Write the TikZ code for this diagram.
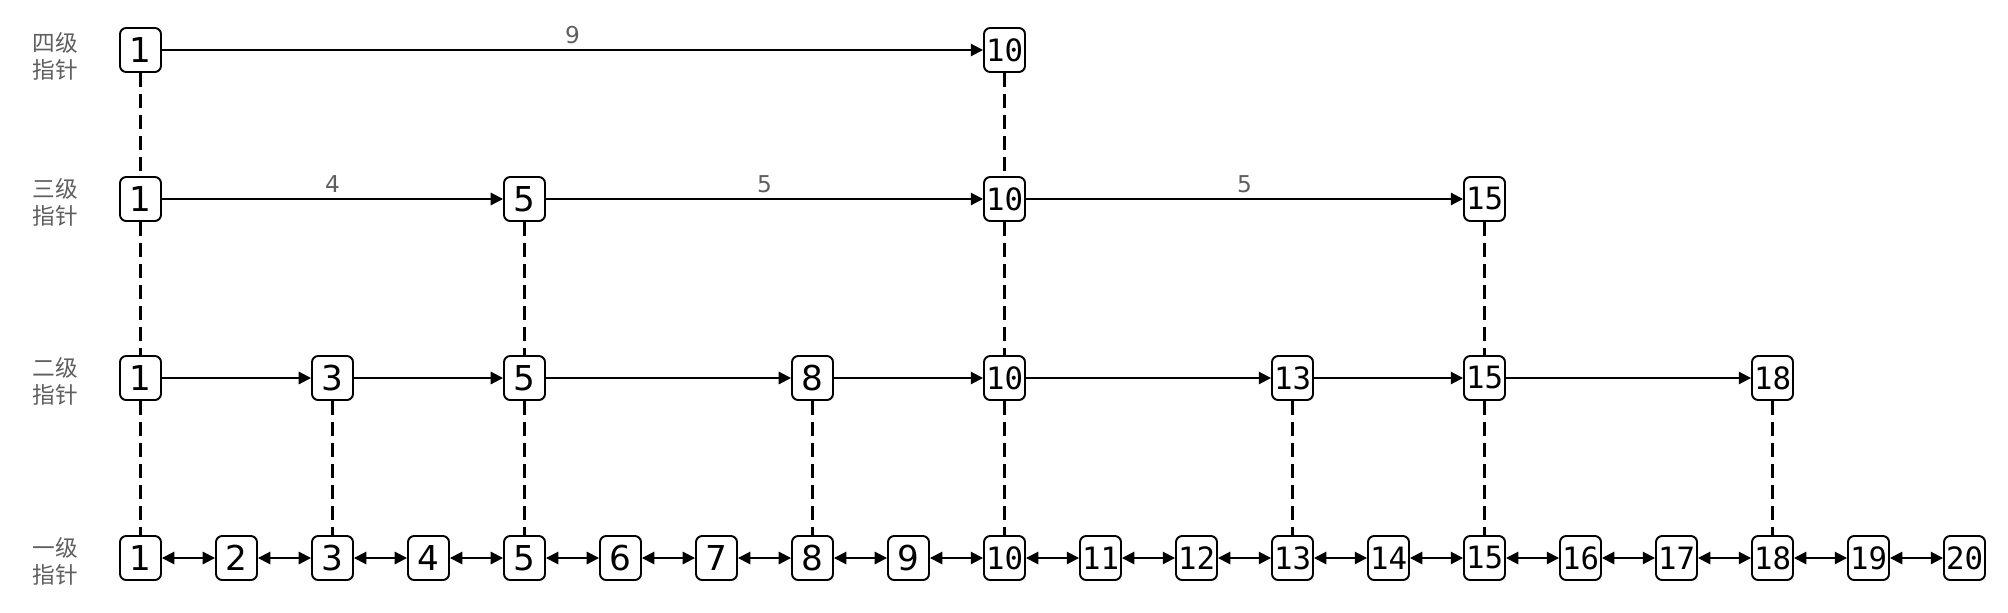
\documentclass[tikz,border=0pt]{standalone}
\usepackage{fontspec}
\usepackage{tikz}
\usepackage{xcolor}
\usetikzlibrary{arrows.meta, positioning, calc}

\newfontfamily\cjkfont{Noto Sans CJK SC}
\newfontfamily\numfont{DejaVu Sans}
\newfontfamily\keymono{DejaVu Sans Mono}
\definecolor{labelgray}{HTML}{5F5F5F}

% one digit keys are set larger than two digit ones
\newcommand{\keynum}[1]{\ifnum#1<10 {\numfont\fontsize{19.5}{20}\selectfont#1}\else{\keymono\fontsize{17.5}{18}\selectfont#1}\fi}

\tikzset{
  keybox/.style={draw, line width=1.1pt, rounded corners=3.5pt, fill=white,
    minimum width=0.82cm, minimum height=0.88cm, inner sep=0pt},
  fwd/.style={line width=1.1pt, -{Triangle[length=7pt, width=7pt]}},
  bidir/.style={line width=1.1pt, {Triangle[length=7pt, width=7pt]}-{Triangle[length=7pt, width=7pt]}},
  level/.style={line width=1.2pt, dash pattern=on 8pt off 4pt},
  span/.style={midway, above=3pt, inner sep=0pt, text=labelgray,
    font=\numfont\fontsize{13.2}{14}\selectfont},
  rowlabel/.style={align=center, text=labelgray, inner sep=0pt,
    font=\cjkfont\fontsize{12.9}{15.3}\selectfont}
}

\begin{document}
\begin{tikzpicture}[x=0.02cm, y=-0.02cm]
    \fill[white] (0,0) rectangle (2008,612);

    \node[rowlabel] (lab4) at (55,56) {四级\\指针};
    \node[rowlabel] (lab3) at (55,202) {三级\\指针};
    \node[rowlabel] (lab2) at (55,381) {二级\\指针};
    \node[rowlabel] (lab1) at (55,561) {一级\\指针};

    % keys of each level
    \foreach \k in {1,...,20}
        \node[keybox] (a\k) at ({140.5+96*(\k-1)},558) {\keynum{\k}};
    \foreach \k in {1,3,5,8,10,13,15,18}
        \node[keybox] (b\k) at ({140.5+96*(\k-1)},378) {\keynum{\k}};
    \foreach \k in {1,5,10,15}
        \node[keybox] (c\k) at ({140.5+96*(\k-1)},199) {\keynum{\k}};
    \foreach \k in {1,10}
        \node[keybox] (d\k) at ({140.5+96*(\k-1)},50) {\keynum{\k}};

    % links between levels
    \foreach \u/\v in {d1/c1, c1/b1, b1/a1, d10/c10, c10/b10, b10/a10,
                       c5/b5, b5/a5, c15/b15, b15/a15,
                       b3/a3, b8/a8, b13/a13, b18/a18}
        \draw[level] (\u) -- (\v);

    % pointers
    \foreach \k [count=\j from 2] in {1,...,19}
        \draw[bidir] (a\k) -- (a\j);
    \foreach \p/\q in {1/3, 3/5, 5/8, 8/10, 10/13, 13/15, 15/18}
        \draw[fwd] (b\p) -- (b\q);
    \foreach \p/\q/\w in {1/5/4, 5/10/5, 10/15/5}
        \draw[fwd] (c\p) -- (c\q) node[span] {\w};
    \draw[fwd] (d1) -- (d10) node[span] {9};
\end{tikzpicture}
\end{document}
